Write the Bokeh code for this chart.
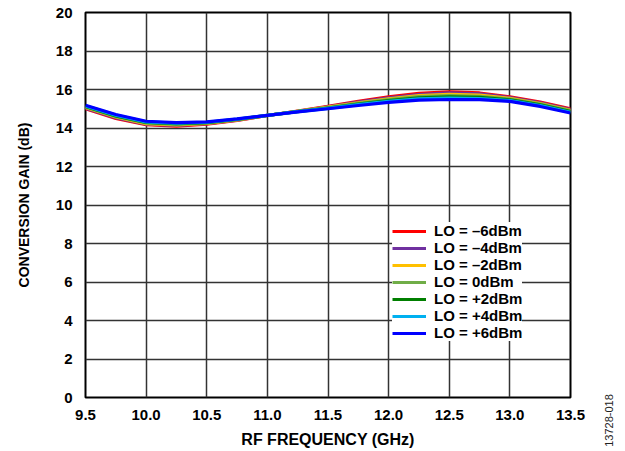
import math
from bokeh.plotting import figure
from bokeh.layouts import row
from bokeh.models import Legend, LegendItem, Label, Range1d, FixedTicker
from bokeh.embed import file_html
from bokeh.resources import INLINE

freq = [9.5, 9.75, 10.0, 10.25, 10.5, 10.75, 11.0, 11.25, 11.5, 11.75, 12.0, 12.25, 12.5, 12.75, 13.0, 13.25, 13.5]

lo_m6 = [15.00, 14.50, 14.17, 14.10, 14.20, 14.40, 14.65, 14.88, 15.12, 15.38, 15.62, 15.80, 15.88, 15.82, 15.62, 15.35, 15.00]
lo_m4 = [15.03, 14.53, 14.20, 14.13, 14.22, 14.41, 14.65, 14.87, 15.10, 15.34, 15.57, 15.74, 15.82, 15.77, 15.58, 15.31, 14.96]
lo_m2 = [15.06, 14.57, 14.23, 14.16, 14.24, 14.42, 14.65, 14.87, 15.08, 15.31, 15.52, 15.68, 15.75, 15.71, 15.54, 15.27, 14.92]
lo_0 = [15.09, 14.60, 14.26, 14.19, 14.26, 14.44, 14.66, 14.86, 15.06, 15.28, 15.48, 15.63, 15.68, 15.65, 15.50, 15.24, 14.89]
lo_p2 = [15.12, 14.63, 14.29, 14.22, 14.28, 14.45, 14.66, 14.85, 15.04, 15.24, 15.43, 15.57, 15.62, 15.59, 15.46, 15.20, 14.85]
lo_p4 = [15.15, 14.67, 14.32, 14.25, 14.30, 14.46, 14.66, 14.85, 15.02, 15.21, 15.38, 15.51, 15.55, 15.53, 15.42, 15.16, 14.82]
lo_p6 = [15.18, 14.70, 14.35, 14.28, 14.32, 14.47, 14.66, 14.84, 15.00, 15.17, 15.33, 15.45, 15.48, 15.47, 15.38, 15.12, 14.78]

series_labels = ["LO = \u20136dBm", "LO = \u20134dBm", "LO = \u20132dBm", "LO = 0dBm",
                 "LO = +2dBm", "LO = +4dBm", "LO = +6dBm"]
series_values = [lo_m6, lo_m4, lo_m2, lo_0, lo_p2, lo_p4, lo_p6]
series_colors = ["#FF0000", "#7030A0", "#FFC000", "#70AD47", "#007F00", "#00B0F0", "#0000FF"]

x_ticks = [9.5, 10.0, 10.5, 11.0, 11.5, 12.0, 12.5, 13.0, 13.5]
y_ticks = [0, 2, 4, 6, 8, 10, 12, 14, 16, 18, 20]
figure_code = "13728-018"

FONT = "Liberation Sans"

p = figure(width=590, height=451, output_backend="svg", toolbar_location=None,
           x_range=Range1d(9.5, 13.5), y_range=Range1d(0, 20),
           min_border_left=85, min_border_right=20, min_border_top=12, min_border_bottom=54)
p.background_fill_color = "white"
p.border_fill_color = "white"
p.outline_line_color = "black"
p.outline_line_width = 2

for ax in (p.xaxis[0], p.yaxis[0]):
    ax.major_label_text_font = FONT
    ax.major_label_text_font_style = "bold"
    ax.major_label_text_font_size = "15px"
    ax.major_label_text_color = "black"
    ax.axis_line_color = None
    ax.major_tick_line_color = None
    ax.minor_tick_line_color = None
    ax.axis_label_text_font = FONT
    ax.axis_label_text_font_style = "bold"
    ax.axis_label_text_color = "black"

p.xaxis[0].ticker = FixedTicker(ticks=x_ticks)
p.yaxis[0].ticker = FixedTicker(ticks=y_ticks)
p.xaxis[0].major_label_overrides = {t: f"{t:.1f}" for t in x_ticks}
p.xaxis[0].major_label_standoff = 6
p.yaxis[0].major_label_standoff = 7
p.xaxis[0].axis_label = "RF FREQUENCY (GHz)"
p.yaxis[0].axis_label = "CONVERSION GAIN (dB)"
p.xaxis[0].axis_label_text_font_size = "16px"
p.yaxis[0].axis_label_text_font_size = "14px"
p.xaxis[0].axis_label_standoff = 8
p.yaxis[0].axis_label_standoff = 21

p.xgrid.grid_line_color = "#333333"
p.ygrid.grid_line_color = "#333333"
p.xgrid.grid_line_width = 1.5
p.ygrid.grid_line_width = 1.5
p.xgrid.grid_line_alpha = 1
p.ygrid.grid_line_alpha = 1

items = []
for lab, vals, col in zip(series_labels, series_values, series_colors):
    r = p.line(freq, vals, line_color=col, line_width=3.2, line_join="round")
    items.append(LegendItem(label=lab, renderers=[r]))

legend = Legend(items=items, location=(307, 56))
legend.background_fill_color = "white"
legend.background_fill_alpha = 1
legend.border_line_color = None
legend.label_text_font = FONT
legend.label_text_font_style = "bold"
legend.label_text_font_size = "15px"
legend.label_text_color = "black"
legend.glyph_width = 34
legend.glyph_height = 14
legend.label_height = 14
legend.label_standoff = 8
legend.spacing = -2
legend.padding = 8
legend.margin = 0
p.add_layout(legend, "center")

# narrow side strip holding the rotated figure code
side = figure(frame_width=35, frame_height=451, output_backend="svg", toolbar_location=None,
              x_range=Range1d(0, 35), y_range=Range1d(0, 451),
              x_axis_location=None, y_axis_location=None,
              min_border=0, min_border_left=0, min_border_right=0,
              min_border_top=0, min_border_bottom=0)
side.grid.visible = False
side.outline_line_color = None
side.background_fill_color = "white"
side.border_fill_color = "white"
side.add_layout(Label(x=18, y=43, text=figure_code, angle=math.pi / 2,
                      text_font=FONT, text_font_size="11px", text_color="#222222",
                      text_align="center", text_baseline="middle"))

layout = row(p, side, spacing=0)
open("out.html", "w").write(file_html(layout, INLINE))
